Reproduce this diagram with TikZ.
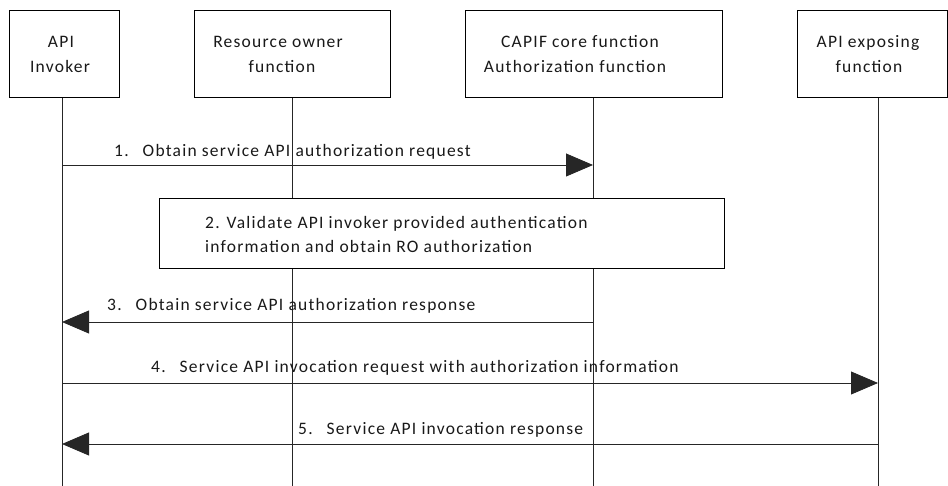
\documentclass[tikz,border=0pt]{standalone}
\usepackage{fontspec}
\setmainfont{Carlito}[LetterSpace=7]
\usetikzlibrary{arrows.meta}
\begin{document}
\begin{tikzpicture}[x=1pt,y=-1pt,
  box/.style={draw=black,line width=0.9pt,fill=white},
  life/.style={draw=black!85,line width=0.8pt},
  msg/.style={draw=black!85,line width=0.8pt,-{Triangle[length=27pt,width=23pt]}},
  txt/.style={inner sep=0pt,anchor=base,text=black!90,font=\fontsize{17.5}{18}\selectfont},
  lbl/.style={inner sep=0pt,anchor=base west,text=black!90,font=\fontsize{17.5}{18}\selectfont}]
\useasboundingbox (0,0) rectangle (948,486);
% lifelines
\coordinate (L1t) at (62,97);  \coordinate (L1b) at (62,486);
\coordinate (L2t) at (292,97); \coordinate (L2b) at (292,486);
\coordinate (L3t) at (593,97); \coordinate (L3b) at (593,486);
\coordinate (L4t) at (878,97); \coordinate (L4b) at (878,486);
\draw[life] (L1t) -- (L1b);
\draw[life] (L2t) -- (L2b);
\draw[life] (L3t) -- (L3b);
\draw[life] (L4t) -- (L4b);
% header boxes
\draw[box] (9,10) rectangle (119,97);
\draw[box] (194,10) rectangle (390,97);
\draw[box] (465,10) rectangle (722,97);
\draw[box] (797,10) rectangle (947,97);
\node[txt] (h1a) at (61,48) {API};
\node[txt] (h1b) at (60,73) {Invoker};
\node[txt] (h2a) at (278,48) {Resource owner};
\node[txt] (h2b) at (282,73) {function};
\node[txt] (h3a) at (580,48) {CAPIF core function};
\node[txt] (h3b) at (575,73) {Authorization function};
\node[txt] (h4a) at (868,48) {API exposing};
\node[txt] (h4b) at (869,73) {function};
% step 2 box
\draw[box] (159,198) rectangle (724,268);
\node[lbl] (s2a) at (205,229) {2. Validate API invoker provided authentication};
\node[lbl] (s2b) at (205,253) {information and obtain RO authorization};
% messages
\coordinate (m1s) at (62,165);  \coordinate (m1e) at (593,165);
\coordinate (m3s) at (593,322); \coordinate (m3e) at (62,322);
\coordinate (m4s) at (62,383);  \coordinate (m4e) at (878,383);
\coordinate (m5s) at (878,444); \coordinate (m5e) at (62,444);
\draw[msg] (m1s) -- (m1e);
\draw[msg] (m3s) -- (m3e);
\draw[msg] (m4s) -- (m4e);
\draw[msg] (m5s) -- (m5e);
\node[lbl] (t1) at (114,157) {1.\hspace{14pt}Obtain service API authorization request};
\node[lbl] (t3) at (107,311) {3.\hspace{14pt}Obtain service API authorization response};
\node[lbl] (t4) at (151,373) {4.\hspace{14pt}Service API invocation request with authorization information};
\node[lbl] (t5) at (298,434) {5.\hspace{14pt}Service API invocation response};
\end{tikzpicture}
\end{document}
